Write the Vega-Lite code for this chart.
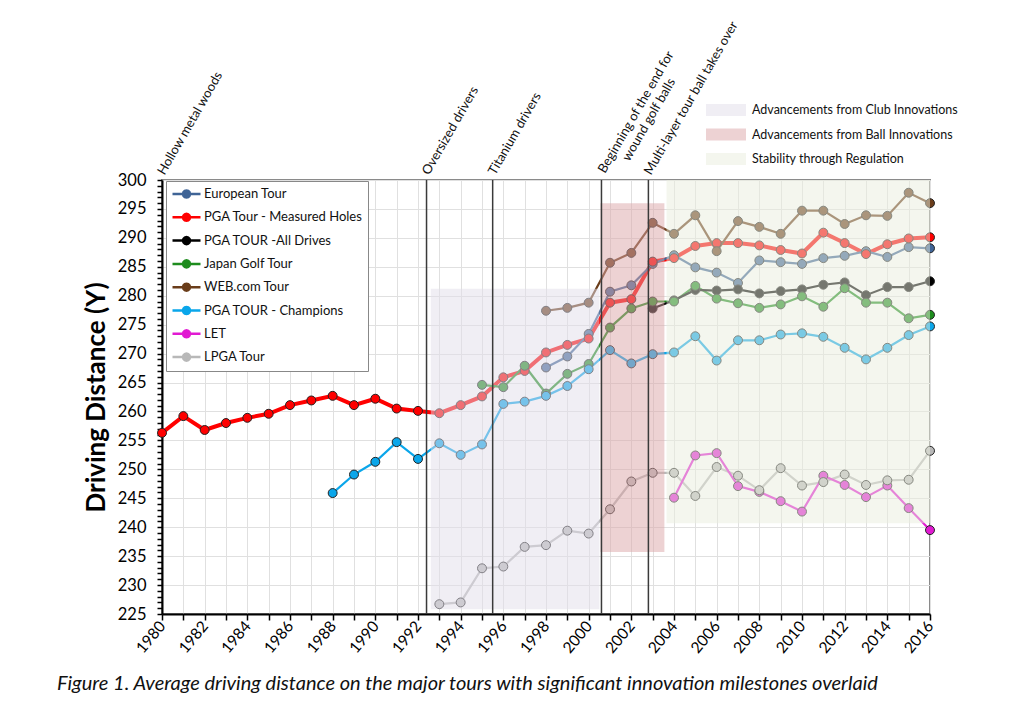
{
  "$schema": "https://vega.github.io/schema/vega-lite/v6.json",
  "width": 768,
  "height": 434,
  "autosize": {"type": "none"},
  "padding": {"left": 162, "top": 180, "right": 94, "bottom": 101},
  "background": "white",
  "config": {
    "font": "Lato",
    "view": {"stroke": "#8a8a8a", "strokeWidth": 2},
    "axis": {"labelFont": "Lato", "titleFont": "Lato"},
    "legend": {"labelFont": "Lato"}
  },
  "title": {
    "text": "Figure 1. Average driving distance on the major tours with significant innovation milestones overlaid",
    "orient": "bottom",
    "anchor": "start",
    "frame": "group",
    "dx": -105,
    "offset": 18,
    "font": "Lato",
    "fontSize": 20,
    "fontStyle": "italic",
    "fontWeight": "normal",
    "color": "#111111"
  },
  "datasets": {
    "tours": [
      {"year": 1980, "PGA Tour - Measured Holes": 256.3},
      {"year": 1981, "PGA Tour - Measured Holes": 259.2},
      {"year": 1982, "PGA Tour - Measured Holes": 256.8},
      {"year": 1983, "PGA Tour - Measured Holes": 258.0},
      {"year": 1984, "PGA Tour - Measured Holes": 258.9},
      {"year": 1985, "PGA Tour - Measured Holes": 259.6},
      {"year": 1986, "PGA Tour - Measured Holes": 261.1},
      {"year": 1987, "PGA Tour - Measured Holes": 261.9},
      {"year": 1988, "PGA Tour - Measured Holes": 262.7, "PGA TOUR - Champions": 245.9},
      {"year": 1989, "PGA Tour - Measured Holes": 261.1, "PGA TOUR - Champions": 249.1},
      {"year": 1990, "PGA Tour - Measured Holes": 262.2, "PGA TOUR - Champions": 251.3},
      {"year": 1991, "PGA Tour - Measured Holes": 260.5, "PGA TOUR - Champions": 254.7},
      {"year": 1992, "PGA Tour - Measured Holes": 260.1, "PGA TOUR - Champions": 251.8},
      {"year": 1993, "PGA Tour - Measured Holes": 259.7, "PGA TOUR - Champions": 254.5, "LPGA Tour": 226.7},
      {"year": 1994, "PGA Tour - Measured Holes": 261.1, "PGA TOUR - Champions": 252.5, "LPGA Tour": 227.0},
      {"year": 1995, "PGA Tour - Measured Holes": 262.6, "PGA TOUR - Champions": 254.3, "Japan Golf Tour": 264.6, "LPGA Tour": 232.9},
      {"year": 1996, "PGA Tour - Measured Holes": 265.9, "PGA TOUR - Champions": 261.3, "Japan Golf Tour": 264.2, "LPGA Tour": 233.2},
      {"year": 1997, "PGA Tour - Measured Holes": 267.0, "PGA TOUR - Champions": 261.7, "Japan Golf Tour": 267.9, "LPGA Tour": 236.6},
      {"year": 1998, "PGA Tour - Measured Holes": 270.2, "PGA TOUR - Champions": 262.7, "Japan Golf Tour": 263.1, "LPGA Tour": 236.9, "European Tour": 267.6, "WEB.com Tour": 277.4},
      {"year": 1999, "PGA Tour - Measured Holes": 271.5, "PGA TOUR - Champions": 264.4, "Japan Golf Tour": 266.5, "LPGA Tour": 239.4, "European Tour": 269.5, "WEB.com Tour": 277.9},
      {"year": 2000, "PGA Tour - Measured Holes": 272.6, "PGA TOUR - Champions": 267.3, "Japan Golf Tour": 268.2, "LPGA Tour": 238.9, "European Tour": 273.4, "WEB.com Tour": 278.8},
      {"year": 2001, "PGA Tour - Measured Holes": 278.8, "PGA TOUR - Champions": 270.6, "Japan Golf Tour": 274.5, "LPGA Tour": 243.1, "European Tour": 280.7, "WEB.com Tour": 285.7},
      {"year": 2002, "PGA Tour - Measured Holes": 279.4, "PGA TOUR - Champions": 268.3, "Japan Golf Tour": 277.8, "LPGA Tour": 247.9, "European Tour": 281.8, "WEB.com Tour": 287.4},
      {"year": 2003, "PGA Tour - Measured Holes": 285.9, "PGA TOUR - Champions": 269.9, "Japan Golf Tour": 279.0, "LPGA Tour": 249.4, "European Tour": 285.5, "WEB.com Tour": 292.6, "PGA TOUR -All Drives": 277.8},
      {"year": 2004, "PGA Tour - Measured Holes": 286.5, "PGA TOUR - Champions": 270.2, "Japan Golf Tour": 279.0, "LPGA Tour": 249.4, "European Tour": 287.0, "WEB.com Tour": 290.7, "PGA TOUR -All Drives": 279.2, "LET": 245.1},
      {"year": 2005, "PGA Tour - Measured Holes": 288.6, "PGA TOUR - Champions": 273.0, "Japan Golf Tour": 281.7, "LPGA Tour": 245.4, "European Tour": 284.9, "WEB.com Tour": 293.9, "PGA TOUR -All Drives": 281.0, "LET": 252.4},
      {"year": 2006, "PGA Tour - Measured Holes": 289.1, "PGA TOUR - Champions": 268.8, "Japan Golf Tour": 279.5, "LPGA Tour": 250.4, "European Tour": 284.0, "WEB.com Tour": 287.7, "PGA TOUR -All Drives": 280.9, "LET": 252.8},
      {"year": 2007, "PGA Tour - Measured Holes": 289.1, "PGA TOUR - Champions": 272.3, "Japan Golf Tour": 278.7, "LPGA Tour": 248.9, "European Tour": 282.2, "WEB.com Tour": 292.9, "PGA TOUR -All Drives": 281.1, "LET": 247.1},
      {"year": 2008, "PGA Tour - Measured Holes": 288.7, "PGA TOUR - Champions": 272.3, "Japan Golf Tour": 277.9, "LPGA Tour": 246.4, "European Tour": 286.1, "WEB.com Tour": 291.9, "PGA TOUR -All Drives": 280.4, "LET": 246.1},
      {"year": 2009, "PGA Tour - Measured Holes": 287.9, "PGA TOUR - Champions": 273.3, "Japan Golf Tour": 278.5, "LPGA Tour": 250.2, "European Tour": 285.8, "WEB.com Tour": 290.7, "PGA TOUR -All Drives": 280.8, "LET": 244.5},
      {"year": 2010, "PGA Tour - Measured Holes": 287.3, "PGA TOUR - Champions": 273.5, "Japan Golf Tour": 279.9, "LPGA Tour": 247.2, "European Tour": 285.5, "WEB.com Tour": 294.7, "PGA TOUR -All Drives": 281.1, "LET": 242.7},
      {"year": 2011, "PGA Tour - Measured Holes": 290.9, "PGA TOUR - Champions": 272.9, "Japan Golf Tour": 278.1, "LPGA Tour": 247.8, "European Tour": 286.5, "WEB.com Tour": 294.7, "PGA TOUR -All Drives": 281.9, "LET": 248.9},
      {"year": 2012, "PGA Tour - Measured Holes": 289.1, "PGA TOUR - Champions": 271.0, "Japan Golf Tour": 281.3, "LPGA Tour": 249.1, "European Tour": 286.9, "WEB.com Tour": 292.4, "PGA TOUR -All Drives": 282.3, "LET": 247.3},
      {"year": 2013, "PGA Tour - Measured Holes": 287.2, "PGA TOUR - Champions": 269.0, "Japan Golf Tour": 278.8, "LPGA Tour": 247.3, "European Tour": 287.7, "WEB.com Tour": 293.9, "PGA TOUR -All Drives": 280.1, "LET": 245.2},
      {"year": 2014, "PGA Tour - Measured Holes": 288.9, "PGA TOUR - Champions": 271.0, "Japan Golf Tour": 278.8, "LPGA Tour": 248.1, "European Tour": 286.7, "WEB.com Tour": 293.8, "PGA TOUR -All Drives": 281.5, "LET": 247.2},
      {"year": 2015, "PGA Tour - Measured Holes": 289.9, "PGA TOUR - Champions": 273.2, "Japan Golf Tour": 276.1, "LPGA Tour": 248.2, "European Tour": 288.4, "WEB.com Tour": 297.8, "PGA TOUR -All Drives": 281.5, "LET": 243.3},
      {"year": 2016, "PGA Tour - Measured Holes": 290.1, "PGA TOUR - Champions": 274.7, "Japan Golf Tour": 276.7, "LPGA Tour": 253.2, "European Tour": 288.2, "WEB.com Tour": 296.0, "PGA TOUR -All Drives": 282.5, "LET": 239.5}
    ],
    "regions": [
      {"region": "Advancements from Club Innovations", "x1": 1992.6, "x2": 2000.5, "y1": 225.8, "y2": 281.2},
      {"region": "Advancements from Ball Innovations", "x1": 2000.55, "x2": 2003.55, "y1": 235.7, "y2": 296.0},
      {"region": "Stability through Regulation", "x1": 2003.65, "x2": 2016, "y1": 240.7, "y2": 300}
    ],
    "milestones": [
      {"year": 1980, "label": "Hollow metal woods"},
      {"year": 1992.4, "label": "Oversized drivers"},
      {"year": 1995.5, "label": "Titanium drivers"},
      {"year": 2000.6, "label": "Beginning of the end for\nwound golf balls"},
      {"year": 2002.8, "label": "Multi-layer tour ball takes over"}
    ]
  },
  "layer": [
    {
      "data": {"name": "tours"},
      "transform": [
        {"fold": ["European Tour", "PGA Tour - Measured Holes", "PGA TOUR -All Drives", "Japan Golf Tour", "WEB\\.com Tour", "PGA TOUR - Champions", "LET", "LPGA Tour"], "as": ["series", "distance"]},
        {"filter": "isValid(datum.distance)"}
      ],
      "mark": {"type": "line"},
      "encoding": {
        "x": {
          "field": "year", "type": "quantitative",
          "scale": {"domain": [1980, 2016], "nice": false, "zero": false},
          "axis": {
            "title": null, "tickCount": 36, "format": "d",
            "labelExpr": "datum.value % 2 === 0 ? datum.label : ''",
            "labelAngle": -50, "labelFontSize": 15.5, "labelColor": "black",
            "labelOverlap": false, "labelFlush": false, "labelPadding": 3,
            "domainColor": "black", "domainWidth": 2,
            "tickColor": "black", "tickWidth": 1.5, "tickSize": 6,
            "gridColor": "#e0e0e0"
          }
        },
        "y": {
          "field": "distance", "type": "quantitative",
          "scale": {"domain": [225, 300], "nice": false, "zero": false},
          "axis": {
            "title": "Driving Distance (Y)", "titleFontSize": 26, "titleFontWeight": "bold",
            "titleColor": "black", "titlePadding": 8,
            "tickCount": 150, "format": "d",
            "labelExpr": "datum.value % 5 === 0 ? datum.label : ''",
            "labelOverlap": false, "labelFlush": false, "labelFontSize": 16.5,
            "labelColor": "black", "labelPadding": 11,
            "domainColor": "black", "domainWidth": 2,
            "tickColor": "black", "tickWidth": 1.5, "tickSize": 5,
            "gridColor": "#e0e0e0",
            "gridOpacity": {"condition": {"test": "datum.value % 5 !== 0", "value": 0}, "value": 1}
          }
        },
        "color": {
          "field": "series", "type": "nominal",
          "scale": {
            "domain": ["European Tour", "PGA Tour - Measured Holes", "PGA TOUR -All Drives", "Japan Golf Tour", "WEB.com Tour", "PGA TOUR - Champions", "LET", "LPGA Tour"],
            "range": ["#3f6496", "#ff0000", "#000000", "#1e8c1e", "#6a3d1a", "#0aa6ea", "#e11ad2", "#b8b8b8"]
          },
          "legend": {
            "title": null, "orient": "none", "legendX": 4, "legendY": 1,
            "fillColor": "white", "strokeColor": "#888888", "padding": 5,
            "labelFontSize": 13, "labelColor": "#111111", "labelOffset": 2,
            "clipHeight": 16, "rowPadding": 7.3,
            "symbolType": "M-1,0L-0.25,0M0.25,0L1,0M0.25,0L0.2165,0.125L0.125,0.2165L0,0.25L-0.125,0.2165L-0.2165,0.125L-0.25,0L-0.2165,-0.125L-0.125,-0.2165L0,-0.25L0.125,-0.2165L0.2165,-0.125Z",
            "symbolSize": 784, "symbolStrokeWidth": 2.5,
            "encode": {"symbols": {"update": {"fill": {"scale": "color", "field": "value"}, "stroke": {"scale": "color", "field": "value"}, "strokeWidth": {"value": 2.5}, "opacity": {"value": 1}}}}
          }
        },
        "strokeWidth": {"condition": {"test": "datum.series === 'PGA Tour - Measured Holes'", "value": 4}, "value": 2.2}
      }
    },
    {
      "data": {"name": "tours"},
      "transform": [
        {"fold": ["European Tour", "PGA Tour - Measured Holes", "PGA TOUR -All Drives", "Japan Golf Tour", "WEB\\.com Tour", "PGA TOUR - Champions", "LET", "LPGA Tour"], "as": ["series", "distance"]},
        {"filter": "isValid(datum.distance)"}
      ],
      "mark": {"type": "point", "filled": true, "size": 80, "stroke": "#222222", "strokeWidth": 1, "opacity": 1},
      "encoding": {
        "x": {"field": "year", "type": "quantitative"},
        "y": {"field": "distance", "type": "quantitative"},
        "color": {"field": "series", "type": "nominal"}
      }
    },
    {
      "data": {"name": "regions"},
      "mark": {"type": "rect", "opacity": 0.5},
      "encoding": {
        "x": {"field": "x1", "type": "quantitative"},
        "x2": {"field": "x2"},
        "y": {"field": "y1", "type": "quantitative"},
        "y2": {"field": "y2"},
        "fill": {
          "field": "region", "type": "nominal",
          "scale": {
            "domain": ["Advancements from Club Innovations", "Advancements from Ball Innovations", "Stability through Regulation"],
            "range": ["#e1dde9", "#dca6a8", "#e9eddd"]
          },
          "legend": {
            "title": null, "orient": "none", "legendX": 544, "legendY": -77,
            "padding": 0, "labelFontSize": 12.5, "labelColor": "#111111", "labelOffset": 6,
            "labelLimit": 400, "clipHeight": 14, "rowPadding": 10.5,
            "symbolType": "M-1,-0.3H1V0.3H-1Z", "symbolSize": 1600, "symbolStrokeWidth": 0
          }
        }
      }
    },
    {
      "data": {"name": "milestones"},
      "transform": [{"filter": "datum.year > 1980"}],
      "mark": {"type": "rule", "color": "#3a3a3a", "strokeWidth": 1.5},
      "encoding": {
        "x": {"field": "year", "type": "quantitative"}
      }
    },
    {
      "data": {"name": "milestones"},
      "transform": [{"filter": "datum.year !== 2000.6"}],
      "mark": {"type": "text", "angle": -60, "align": "left", "baseline": "alphabetic", "dx": 5, "fontSize": 13, "font": "Lato", "color": "#111111"},
      "encoding": {
        "x": {"field": "year", "type": "quantitative"},
        "y": {"datum": 300},
        "text": {"field": "label"}
      }
    },
    {
      "data": {"name": "milestones"},
      "transform": [{"filter": "datum.year === 2000.6"}],
      "mark": {"type": "text", "angle": -60, "align": "center", "baseline": "alphabetic", "dx": 76, "lineBreak": "\n", "fontSize": 13, "font": "Lato", "color": "#111111"},
      "encoding": {
        "x": {"field": "year", "type": "quantitative"},
        "y": {"datum": 300},
        "text": {"field": "label"}
      }
    }
  ]
}
